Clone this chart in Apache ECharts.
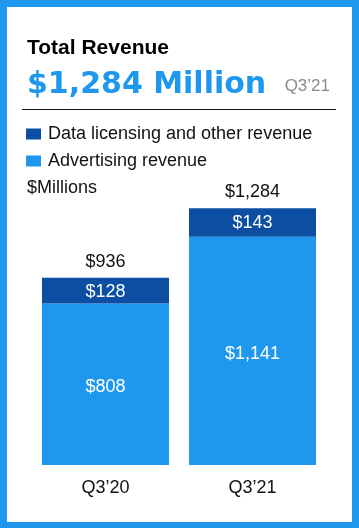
<!DOCTYPE html>
<html>
<head>
<meta charset="utf-8">
<script src="https://cdn.jsdelivr.net/npm/echarts@6/dist/echarts.min.js"></script>
<style>
html,body{margin:0;padding:0;background:#1E98EE;}
#chart{width:359px;height:528px;}
</style>
</head>
<body>
<div id="chart"></div>
<script>
const categories = ["Q3\u201920", "Q3\u201921"];
const advertising = [808, 1141];
const dataLicensing = [128, 143];
const seriesNames = ["Data licensing and other revenue", "Advertising revenue"];
const totals = categories.map((c, i) => advertising[i] + dataLicensing[i]);

const LIGHT = "#1E98EE";
const DARK = "#0B4EA2";
const FONT = "Liberation Sans, Arial, sans-serif";
const fmt = v => "$" + Number(v).toLocaleString("en-US");

const chart = echarts.init(document.getElementById("chart"), null, {renderer: "canvas"});
chart.setOption({
  backgroundColor: LIGHT,
  animation: false,
  textStyle: {fontFamily: FONT},
  graphic: [
    {type: "rect", z: -10, shape: {x: 7, y: 7, width: 345, height: 515}, style: {fill: "#ffffff"}},
    {type: "line", shape: {x1: 22, y1: 109.5, x2: 336, y2: 109.5}, style: {stroke: "#111", lineWidth: 1}},
    {type: "text", x: 27, y: 48, style: {text: "Total Revenue", font: "bold 21px " + FONT, fill: "#000", verticalAlign: "middle", textVerticalAlign: "middle"}},
    {type: "text", x: 27, y: 85, style: {text: "$1,284 Million", font: "bold 30px DejaVu Sans", fill: LIGHT, verticalAlign: "middle", textVerticalAlign: "middle"}},
    {type: "text", x: 330, y: 86, style: {text: "Q3\u201921", font: "17px " + FONT, fill: "#8a8a8a", align: "right", textAlign: "right", verticalAlign: "middle", textVerticalAlign: "middle"}},
    {type: "text", x: 27, y: 188, style: {text: "$Millions", font: "18px " + FONT, fill: "#111", verticalAlign: "middle", textVerticalAlign: "middle"}}
  ],
  legend: {
    data: seriesNames,
    orient: "vertical",
    left: 26,
    top: 125,
    padding: 0,
    icon: "rect",
    itemWidth: 15,
    itemHeight: 11,
    itemGap: 9,
    textStyle: {fontSize: 18, lineHeight: 18, color: "#111", fontFamily: FONT, padding: [0, 0, 0, 2]},
    selectedMode: false
  },
  grid: {left: 32, right: 33, top: 165, bottom: 63, containLabel: false},
  xAxis: {
    type: "category",
    data: categories,
    axisLine: {show: false},
    axisTick: {show: false},
    axisLabel: {color: "#111", fontSize: 18, margin: 14, fontFamily: FONT}
  },
  yAxis: {type: "value", min: 0, max: 1500, show: false, splitLine: {show: false}},
  series: [
    {
      name: seriesNames[1],
      type: "bar",
      stack: "rev",
      data: advertising,
      barWidth: 127,
      itemStyle: {color: LIGHT},
      label: {show: true, position: "inside", offset: [0, 3], color: "#fff", fontSize: 18, fontFamily: FONT, formatter: p => fmt(p.value)}
    },
    {
      name: seriesNames[0],
      type: "bar",
      stack: "rev",
      data: dataLicensing,
      barWidth: 127,
      itemStyle: {color: DARK},
      label: {show: true, position: "inside", offset: [0, 1], color: "#fff", fontSize: 18, fontFamily: FONT, formatter: p => fmt(p.value)}
    },
    {
      name: "Total",
      type: "scatter",
      data: totals,
      symbolSize: 0,
      silent: true,
      itemStyle: {opacity: 1, color: "#111"},
      label: {show: true, position: "top", distance: 7, color: "#111", fontSize: 18, fontFamily: FONT, formatter: p => fmt(p.value)}
    }
  ]
});
</script>
</body>
</html>
